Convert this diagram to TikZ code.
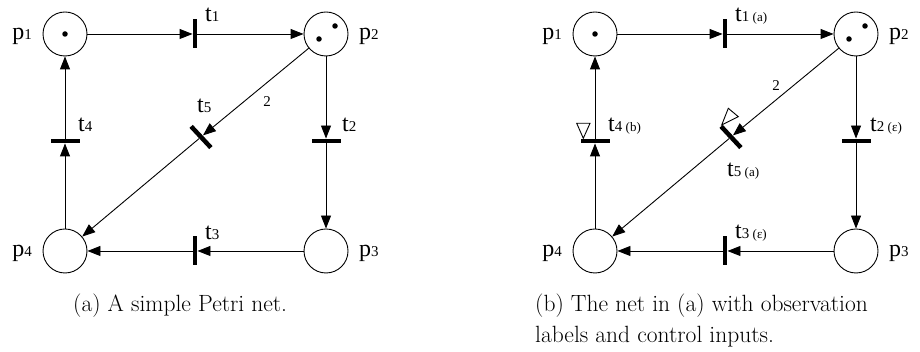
\documentclass[tikz,border=0pt]{standalone}
\usepackage{fontspec}
\newfontfamily\tfont{Liberation Serif}
\usetikzlibrary{arrows.meta,calc}
\newcommand\BigL[2]{{\tfont\fontsize{24}{24}\selectfont #1\fontsize{15}{15}\selectfont #2}}
\newcommand\Obs[1]{{\tfont\fontsize{13}{13}\selectfont #1}}
\newcommand\CapFont{\fontsize{23.5}{31}\selectfont}
\tikzset{
 place/.style={circle,draw,line width=0.9pt,minimum size=44pt,inner sep=0pt},
 vbar/.style={rectangle,fill=black,minimum width=4.5pt,minimum height=29pt,inner sep=0pt},
 hbar/.style={rectangle,fill=black,minimum width=29pt,minimum height=4.5pt,inner sep=0pt},
 arc/.style={line width=0.9pt,-{Triangle[length=13pt,width=10pt]}},
 tok/.style={circle,fill=black,inner sep=0pt,minimum size=5.5pt},
 lbl/.style={inner sep=0pt,anchor=base west},
 lble/.style={inner sep=0pt,anchor=base east},
 ctrl/.style={draw,line width=0.9pt,line join=miter},
}
\begin{document}
\begin{tikzpicture}[x=1pt,y=1pt]
\useasboundingbox (0,0) rectangle (920,352);
% ---------- left net ----------
\node[place] (ap1) at (65,318) {};
\node[place] (ap2) at (326,318) {};
\node[place] (ap3) at (326,101) {};
\node[place] (ap4) at (65,101) {};
\node[tok] (ap1a) at (ap1) {};
\node[tok] (ap2a) at ($(ap2)+(9,8)$) {};
\node[tok] (ap2b) at ($(ap2)+(-7,-5)$) {};
\node[vbar] (at1) at (195,318) {};
\node[hbar] (at2) at (326,211) {};
\node[vbar] (at3) at (195,101) {};
\node[hbar] (at4) at (65,211) {};
\node[hbar,rotate=-47] (at5) at (201,215) {};
\draw[arc] (ap1) -- (at1);
\draw[arc] (at1) -- (ap2);
\draw[arc] (ap2) -- (at2);
\draw[arc] (at2) -- (ap3);
\draw[arc] (ap3) -- (at3);
\draw[arc] (at3) -- (ap4);
\draw[arc] (ap4) -- (at4);
\draw[arc] (at4) -- (ap1);
\draw[arc] (ap2) -- (at5);
\draw[arc] (at5) -- (ap4);
\node[lble] (lp1) at (32,312) {\BigL{p}{1}};
\node[lbl] (lp2) at (359,312) {\BigL{p}{2}};
\node[lbl] (lp3) at (359,95) {\BigL{p}{3}};
\node[lble] (lp4) at (32,95) {\BigL{p}{4}};
\node[lbl] (lt1) at (205,330) {\BigL{t}{1}};
\node[lbl] (lt2) at (342,220) {\BigL{t}{2}};
\node[lbl] (lt3) at (205,112) {\BigL{t}{3}};
\node[lbl] (lt4) at (78,220) {\BigL{t}{4}};
\node[lbl] (lt5) at (197,239) {\BigL{t}{5}};
\node[inner sep=0pt] (lw) at (267,250) {\tfont\fontsize{15}{15}\selectfont 2};
\node[lbl] (capa) at (73,40) {\CapFont (a) A simple Petri net.};
% ---------- right net ----------
\node[place] (bp1) at (595,318) {};
\node[place] (bp2) at (856,318) {};
\node[place] (bp3) at (856,101) {};
\node[place] (bp4) at (595,101) {};
\node[tok] (bp1a) at (bp1) {};
\node[tok] (bp2a) at ($(bp2)+(9,8)$) {};
\node[tok] (bp2b) at ($(bp2)+(-7,-5)$) {};
\node[vbar] (bt1) at (725,318) {};
\node[hbar] (bt2) at (856,211) {};
\node[vbar] (bt3) at (725,101) {};
\node[hbar] (bt4) at (595,211) {};
\node[hbar,rotate=-47] (bt5) at (731,215) {};
\draw[arc] (bp1) -- (bt1);
\draw[arc] (bt1) -- (bp2);
\draw[arc] (bp2) -- (bt2);
\draw[arc] (bt2) -- (bp3);
\draw[arc] (bp3) -- (bt3);
\draw[arc] (bt3) -- (bp4);
\draw[arc] (bp4) -- (bt4);
\draw[arc] (bt4) -- (bp1);
\draw[arc] (bp2) -- (bt5);
\draw[arc] (bt5) -- (bp4);
\draw[ctrl] (576.7,228.7) -- (590,228.7) -- (583.3,213.7) -- cycle;
\draw[ctrl] (728.3,243.7) -- (738.3,235.3) -- (721.7,227) -- cycle;
\node[lble] (mp1) at (562,312) {\BigL{p}{1}};
\node[lbl] (mp2) at (889,312) {\BigL{p}{2}};
\node[lbl] (mp3) at (889,95) {\BigL{p}{3}};
\node[lble] (mp4) at (562,95) {\BigL{p}{4}};
\node[lbl] (mt1) at (735,330) {\BigL{t}{1} \Obs{(a)}};
\node[lbl] (mt2) at (870,220) {\BigL{t}{2} \Obs{(ε)}};
\node[lbl] (mt3) at (735,113) {\BigL{t}{3} \Obs{(ε)}};
\node[lbl] (mt4) at (608,220) {\BigL{t}{4} \Obs{(b)}};
\node[lbl] (mt5) at (727,175) {\BigL{t}{5} \Obs{(a)}};
\node[inner sep=0pt] (mw) at (776,266) {\tfont\fontsize{15}{15}\selectfont 2};
\node[lbl] (capb1) at (535,40) {\CapFont (b) The net in (a) with observation};
\node[lbl] (capb2) at (535,9) {\CapFont labels and control inputs.};
\end{tikzpicture}
\end{document}
